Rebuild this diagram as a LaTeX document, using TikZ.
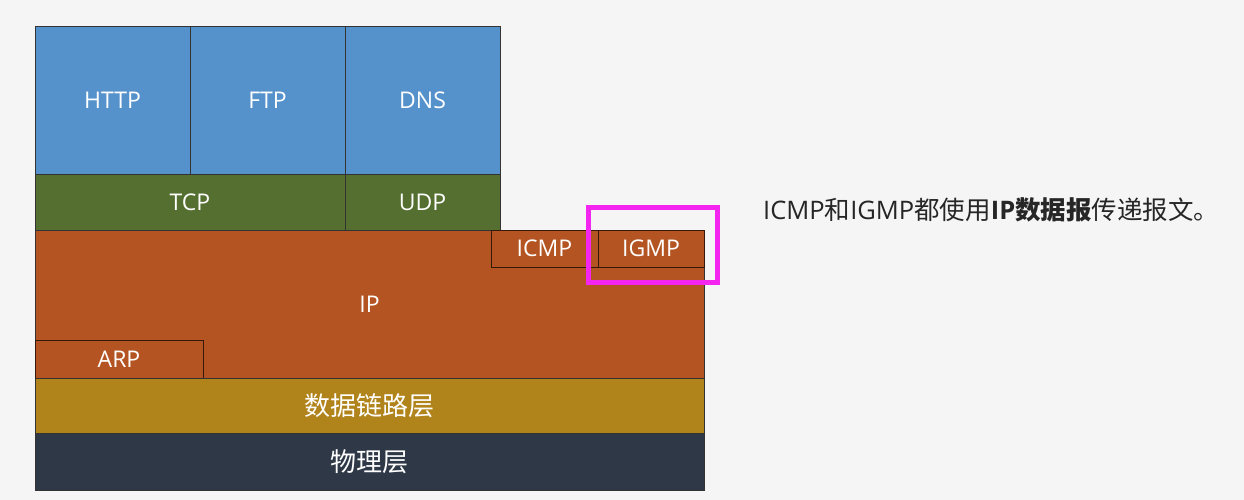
\documentclass[tikz,border=0pt]{standalone}
\usepackage{fontspec}
\setmainfont{Open Sans}
\newfontfamily\cjk{Noto Sans CJK SC}
\definecolor{pagebg}{HTML}{F5F5F5}
\definecolor{appblue}{HTML}{5592CC}
\definecolor{tpgreen}{HTML}{546F2F}
\definecolor{iporange}{HTML}{B45422}
\definecolor{linkgold}{HTML}{B1841B}
\definecolor{physdark}{HTML}{2F3847}
\definecolor{markpink}{HTML}{F425F0}

\begin{document}
\begin{tikzpicture}[x=1pt, y=-1pt]
        \tikzstyle{layer} = [rectangle, draw=black!80, line width=0.7pt, inner sep=0pt, text=white, font=\fontsize{23}{27}\selectfont]
        \tikzstyle{sub}   = [layer, draw=black!70!iporange, fill=iporange]
        \tikzstyle{cn}    = [font=\fontsize{26}{30}\selectfont\cjk]
                \useasboundingbox [fill=pagebg] (0,0) rectangle (1244,500);

                % application layer
                \foreach \name/\i in {HTTP/0,FTP/1,DNS/2}
                {
                        \node [layer, fill=appblue, minimum width=155pt, minimum height=148pt](\name) at ({112.5 + \i * 155}, 100) {\name};
                }

                % transport layer
                \node [layer, fill=tpgreen, minimum width=310pt, minimum height=56pt](TCP) at (190, 202) {TCP};
                \node [layer, fill=tpgreen, minimum width=155pt, minimum height=56pt](UDP) at (422.5, 202) {UDP};

                % network layer
                \node [layer, fill=iporange, minimum width=669pt, minimum height=148pt](IP) at (369.5, 304) {IP};
                \node [sub, minimum width=107pt, minimum height=37pt](ICMP) at (544.5, 248.5) {ICMP};
                \node [sub, minimum width=106pt, minimum height=37pt](IGMP) at (651, 248.5) {IGMP};
                \node [sub, minimum width=168pt, minimum height=38pt](ARP) at (119, 359) {ARP};

                % lower layers
                \node [layer, cn, fill=linkgold, minimum width=669pt, minimum height=55pt](link) at (369.5, 405.5) {数据链路层};
                \node [layer, cn, fill=physdark, minimum width=669pt, minimum height=57pt](phys) at (369.5, 461.5) {物理层};

                \node [draw=markpink, line width=5pt, minimum width=129pt, minimum height=75pt](mark) at (653, 245) {};

                \node [anchor=west, inner sep=0pt, text=black!85, font=\fontsize{25.5}{30}\selectfont](note) at (763, 210)
                        {ICMP{\cjk 和}IGMP{\cjk 都使用}\textbf{IP{\cjk 数据报}}{\cjk 传递报文。}};
\end{tikzpicture}
\end{document}
